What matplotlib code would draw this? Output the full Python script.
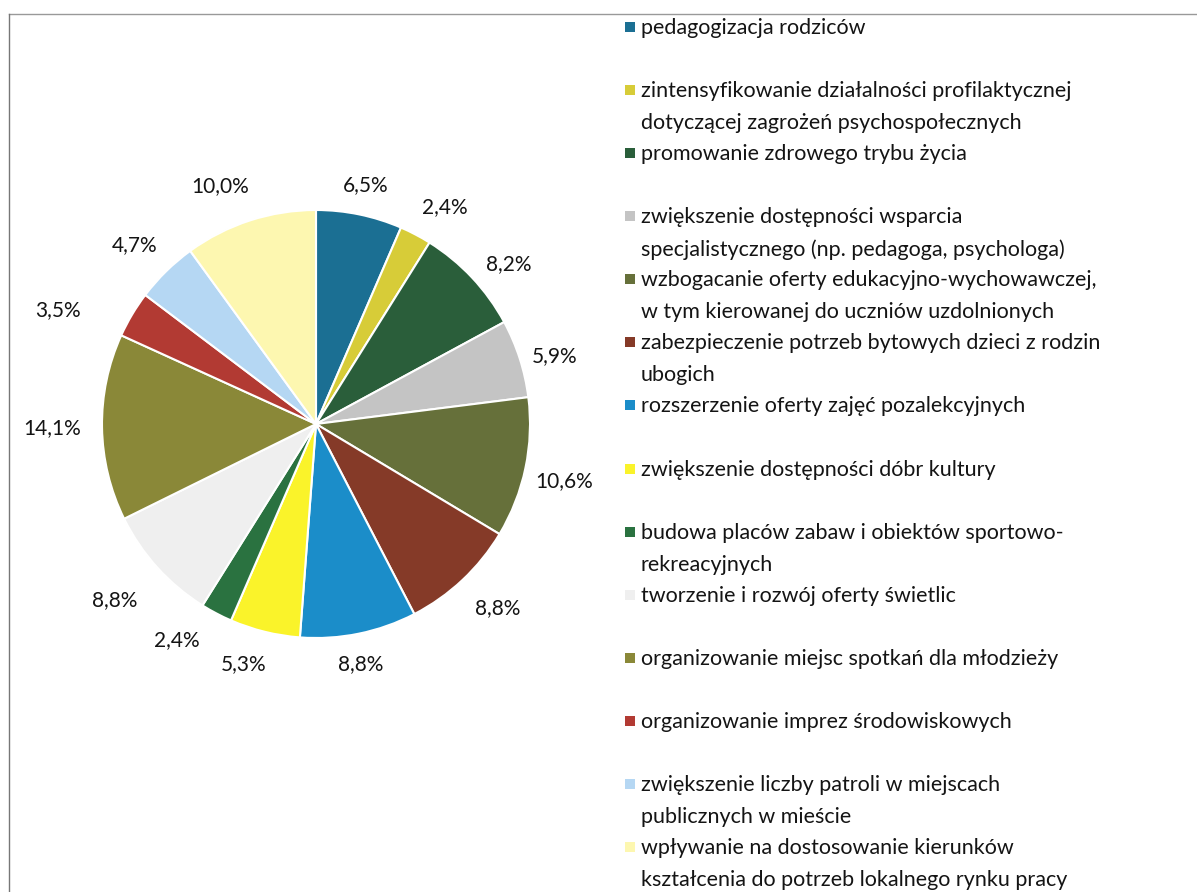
import numpy as np
import matplotlib
matplotlib.use("Agg")
import matplotlib.pyplot as plt
from matplotlib.patches import Rectangle

plt.rcParams['font.family'] = ['Lato', 'DejaVu Sans']

# Data
categories = [
    "pedagogizacja rodziców",
    "zintensyfikowanie działalności profilaktycznej\ndotyczącej zagrożeń psychospołecznych",
    "promowanie zdrowego trybu życia",
    "zwiększenie dostępności wsparcia\nspecjalistycznego (np. pedagoga, psychologa)",
    "wzbogacanie oferty edukacyjno-wychowawczej,\nw tym kierowanej do uczniów uzdolnionych",
    "zabezpieczenie potrzeb bytowych dzieci z rodzin\nubogich",
    "rozszerzenie oferty zajęć pozalekcyjnych",
    "zwiększenie dostępności dóbr kultury",
    "budowa placów zabaw i obiektów sportowo-\nrekreacyjnych",
    "tworzenie i rozwój oferty świetlic",
    "organizowanie miejsc spotkań dla młodzieży",
    "organizowanie imprez środowiskowych",
    "zwiększenie liczby patroli w miejscach\npublicznych w mieście",
    "wpływanie na dostosowanie kierunków\nkształcenia do potrzeb lokalnego rynku pracy",
]
values = [6.5, 2.4, 8.2, 5.9, 10.6, 8.8, 8.8, 5.3, 2.4, 8.8, 14.1, 3.5, 4.7, 10.0]
colors = ["#1B6F93", "#D7CC38", "#2A5E3A", "#C4C4C4", "#66703A", "#853A28", "#1B8DC9",
          "#FAF32A", "#2A7240", "#EFEFEF", "#8A8838", "#B23A33", "#B5D7F3", "#FDF7B0"]

# label placement tweaks (angle shift in degrees, distance in radii)
label_dang = [0, -3, -3.5, -2, -1, 1.5, -1, -3, -5, -1, 0, 7, 1, 4]
label_dist = [1.14, 1.18, 1.17, 1.16, 1.19, 1.21, 1.14, 1.17, 1.2, 1.25, 1.235, 1.32, 1.19, 1.2]

W, H = 1197, 892
fig = plt.figure(figsize=(W / 100, H / 100), dpi=100)

# pie axes: centre (316, 424) px, radius 214 px
R, lim = 214, 1.3
side = 2 * R * lim
cx, cy = 316, H - 424
ax = fig.add_axes([(cx - side / 2) / W, (cy - side / 2) / H, side / W, side / H])

wedges, _, autotexts = ax.pie(
    values, colors=colors, startangle=90, counterclock=False,
    autopct=lambda p: f"{p:.1f}%".replace(".", ","), pctdistance=1.15,
    wedgeprops=dict(edgecolor="white", linewidth=1.5),
    textprops=dict(fontsize=15, color="#141414"))
for w, t, da, r in zip(wedges, autotexts, label_dang, label_dist):
    ang = np.deg2rad((w.theta1 + w.theta2) / 2 + da)
    t.set_position((r * np.cos(ang), r * np.sin(ang)))
    t.set_ha("center")
    t.set_va("center")
ax.set_xlim(-lim, lim)
ax.set_ylim(-lim, lim)

# legend, drawn line by line
x_box, x_txt = 630, 641
y0, step, line_h = 28, 63.08, 32
for i, (lab, col) in enumerate(zip(categories, colors)):
    y = y0 + step * i
    fig.patches.append(Rectangle(((x_box - 5) / W, 1 - (y + 4) / H), 10 / W, 10 / H,
                                 transform=fig.transFigure, facecolor=col,
                                 edgecolor="none"))
    for k, line in enumerate(lab.split("\n")):
        fig.text(x_txt / W, 1 - (y + line_h * k) / H, line, fontsize=15.5,
                 color="#141414", va="center", ha="left")

# faint chart border (top and left)
fig.add_artist(plt.Line2D([9 / W, 1], [1 - 14 / H, 1 - 14 / H], color="#999999",
                          lw=1, transform=fig.transFigure))
fig.add_artist(plt.Line2D([9 / W, 9 / W], [0, 1 - 14 / H], color="#777777",
                          lw=1, transform=fig.transFigure))

fig.savefig("out.png", dpi=100)
